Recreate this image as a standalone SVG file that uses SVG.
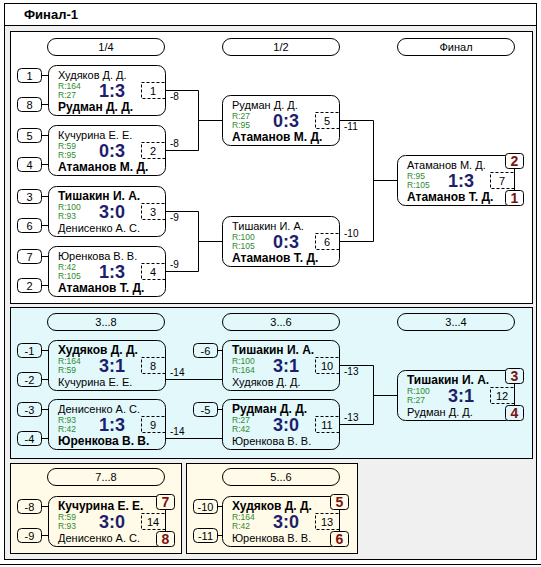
<svg xmlns="http://www.w3.org/2000/svg" width="541" height="567" viewBox="0 0 541 567">
<style>
text{font-family:"Liberation Sans",Arial,sans-serif;}
.frame{fill:#f0f0f0;stroke:#000;stroke-width:1}
.title{fill:#fff;stroke:#000;stroke-width:1}
.ttl{font-size:13px;font-weight:bold;fill:#000}
.p1{fill:#fff;stroke:#000;stroke-width:1}
.p2{fill:#e2f8fb;stroke:#000;stroke-width:1}
.p3{fill:#fffbe8;stroke:#000;stroke-width:1}
.pill{fill:none;stroke:#000;stroke-width:1}
.pt{font-size:11px;text-anchor:middle;fill:#000}
.box{fill:none;stroke:#000;stroke-width:1}
.seed{fill:none;stroke:#000;stroke-width:1}
.st{font-size:11px;text-anchor:middle;fill:#000}
.dash{fill:none;stroke:#000;stroke-width:1;stroke-dasharray:3,2}
.dt{font-size:11px;text-anchor:middle;fill:#000}
.n{font-size:11px;fill:#000}
.nb{font-size:12px;font-weight:bold;fill:#000}
.r{font-size:8.5px;fill:#2e8b2e}
.sc{font-size:18px;font-weight:bold;fill:#1e1e6e;text-anchor:middle}
.pl{stroke:#000;stroke-width:1}
.plt{font-size:14px;font-weight:bold;fill:#7a1212;text-anchor:middle}
.ln{fill:none;stroke:#000;stroke-width:1}
.lb{font-size:10px;fill:#000}
</style>

<!-- frame -->
<rect class="title" x="4.5" y="3.5" width="532" height="22"/>
<text class="ttl" x="24" y="19">Финал-1</text>
<rect class="frame" x="4.5" y="25.5" width="532" height="534"/>
<line x1="0" y1="564.5" x2="541" y2="564.5" stroke="#000" stroke-width="1"/>

<!-- panels -->
<rect class="p1" x="10.5" y="31.5" width="522" height="272"/>
<rect class="p2" x="10.5" y="307.5" width="522" height="151"/>
<rect class="p3" x="10.5" y="463.5" width="171" height="90"/>
<rect class="p3" x="186.5" y="463.5" width="171" height="90"/>

<!-- round headers -->
<g id="headers">
<rect class="pill" x="47.5" y="38.5" width="117" height="17" rx="8.5"/><text class="pt" x="106" y="51">1/4</text>
<rect class="pill" x="222.5" y="38.5" width="117" height="17" rx="8.5"/><text class="pt" x="281" y="51">1/2</text>
<rect class="pill" x="397.5" y="38.5" width="117" height="17" rx="8.5"/><text class="pt" x="456" y="51">Финал</text>
<rect class="pill" x="47.5" y="313.5" width="117" height="17" rx="8.5"/><text class="pt" x="106" y="326">3...8</text>
<rect class="pill" x="222.5" y="313.5" width="117" height="17" rx="8.5"/><text class="pt" x="281" y="326">3...6</text>
<rect class="pill" x="397.5" y="313.5" width="117" height="17" rx="8.5"/><text class="pt" x="456" y="326">3...4</text>
<rect class="pill" x="47.5" y="468.5" width="117" height="17" rx="8.5"/><text class="pt" x="106" y="481">7...8</text>
<rect class="pill" x="222.5" y="468.5" width="117" height="17" rx="8.5"/><text class="pt" x="281" y="481">5...6</text>
</g>

<!-- connectors -->
<g id="connectors">
<path class="ln" d="M165,90.5H198.5V150.5H165M198.5,120.5H222"/>
<path class="ln" d="M165,211.5H198.5V271.5H165M198.5,241.5H222"/>
<path class="ln" d="M339,120.5H373.5V241.5H339M373.5,180.5H397"/>
<path class="ln" d="M165,379.5H222M165,438.5H222"/>
<path class="ln" d="M339,365.5H373.5V424.5H339M373.5,395.5H397"/>
<path class="ln" d="M42,75.5H48M42,104.5H48M42,135.5H48M42,164.5H48M42,196.5H48M42,225.5H48M42,256.5H48M42,285.5H48"/>
<path class="ln" d="M42,350.5H48M42,379.5H48M42,409.5H48M42,438.5H48M218,350.5H222M218,409.5H222"/>
<path class="ln" d="M42,506.5H48M42,535.5H48M218,506.5H222M218,535.5H222"/>
<text class="lb" x="170" y="100">-8</text>
<text class="lb" x="170" y="147">-8</text>
<text class="lb" x="170" y="221">-9</text>
<text class="lb" x="170" y="268">-9</text>
<text class="lb" x="344" y="130">-11</text>
<text class="lb" x="344" y="237">-10</text>
<text class="lb" x="170" y="376">-14</text>
<text class="lb" x="170" y="435">-14</text>
<text class="lb" x="344" y="375">-13</text>
<text class="lb" x="344" y="421">-13</text>
</g>

<!-- seeds -->
<g id="seeds">
<rect class="seed" x="17.5" y="68.5" width="24" height="14" rx="4"/><text class="st" x="29.5" y="80">1</text>
<rect class="seed" x="17.5" y="97.5" width="24" height="14" rx="4"/><text class="st" x="29.5" y="109">8</text>
<rect class="seed" x="17.5" y="128.5" width="24" height="14" rx="4"/><text class="st" x="29.5" y="140">5</text>
<rect class="seed" x="17.5" y="157.5" width="24" height="14" rx="4"/><text class="st" x="29.5" y="169">4</text>
<rect class="seed" x="17.5" y="189.5" width="24" height="14" rx="4"/><text class="st" x="29.5" y="201">3</text>
<rect class="seed" x="17.5" y="218.5" width="24" height="14" rx="4"/><text class="st" x="29.5" y="230">6</text>
<rect class="seed" x="17.5" y="249.5" width="24" height="14" rx="4"/><text class="st" x="29.5" y="261">7</text>
<rect class="seed" x="17.5" y="278.5" width="24" height="14" rx="4"/><text class="st" x="29.5" y="290">2</text>
<rect class="seed" x="17.5" y="343.5" width="24" height="14" rx="4"/><text class="st" x="29.5" y="355">-1</text>
<rect class="seed" x="17.5" y="372.5" width="24" height="14" rx="4"/><text class="st" x="29.5" y="384">-2</text>
<rect class="seed" x="17.5" y="402.5" width="24" height="14" rx="4"/><text class="st" x="29.5" y="414">-3</text>
<rect class="seed" x="17.5" y="431.5" width="24" height="14" rx="4"/><text class="st" x="29.5" y="443">-4</text>
<rect class="seed" x="193.5" y="343.5" width="24" height="14" rx="4"/><text class="st" x="205.5" y="355">-6</text>
<rect class="seed" x="193.5" y="402.5" width="24" height="14" rx="4"/><text class="st" x="205.5" y="414">-5</text>
<rect class="seed" x="17.5" y="499.5" width="24" height="14" rx="4"/><text class="st" x="29.5" y="511">-8</text>
<rect class="seed" x="17.5" y="528.5" width="24" height="14" rx="4"/><text class="st" x="29.5" y="540">-9</text>
<rect class="seed" x="193.5" y="499.5" width="24" height="14" rx="4"/><text class="st" x="205.5" y="511">-10</text>
<rect class="seed" x="193.5" y="528.5" width="24" height="14" rx="4"/><text class="st" x="205.5" y="540">-11</text>
</g>

<!-- match 1 -->
<g id="m1" transform="translate(48,65)">
<rect class="box" x="0.5" y="0.5" width="117" height="50" rx="8"/>
<text class="n" x="10" y="14">Худяков Д. Д.</text><text class="r" x="10" y="24">R:164</text>
<text class="r" x="10" y="33">R:27</text><text class="nb" x="10" y="46">Рудман Д. Д.</text>
<text class="sc" x="64" y="32">1:3</text>
<rect class="dash" x="93.5" y="17.5" width="24" height="16"/><text class="dt" x="105" y="30">1</text>
</g>
<g id="m2" transform="translate(48,125)">
<rect class="box" x="0.5" y="0.5" width="117" height="50" rx="8"/>
<text class="n" x="10" y="14">Кучурина Е. Е.</text><text class="r" x="10" y="24">R:59</text>
<text class="r" x="10" y="33">R:95</text><text class="nb" x="10" y="46">Атаманов М. Д.</text>
<text class="sc" x="64" y="32">0:3</text>
<rect class="dash" x="93.5" y="17.5" width="24" height="16"/><text class="dt" x="105" y="30">2</text>
</g>
<g id="m3" transform="translate(48,186)">
<rect class="box" x="0.5" y="0.5" width="117" height="50" rx="8"/>
<text class="nb" x="10" y="14">Тишакин И. А.</text><text class="r" x="10" y="24">R:100</text>
<text class="r" x="10" y="33">R:93</text><text class="n" x="10" y="46">Денисенко А. С.</text>
<text class="sc" x="64" y="32">3:0</text>
<rect class="dash" x="93.5" y="17.5" width="24" height="16"/><text class="dt" x="105" y="30">3</text>
</g>
<g id="m4" transform="translate(48,246)">
<rect class="box" x="0.5" y="0.5" width="117" height="50" rx="8"/>
<text class="n" x="10" y="14">Юренкова В. В.</text><text class="r" x="10" y="24">R:42</text>
<text class="r" x="10" y="33">R:105</text><text class="nb" x="10" y="46">Атаманов Т. Д.</text>
<text class="sc" x="64" y="32">1:3</text>
<rect class="dash" x="93.5" y="17.5" width="24" height="16"/><text class="dt" x="105" y="30">4</text>
</g>
<g id="m5" transform="translate(222,95)">
<rect class="box" x="0.5" y="0.5" width="117" height="50" rx="8"/>
<text class="n" x="10" y="14">Рудман Д. Д.</text><text class="r" x="10" y="24">R:27</text>
<text class="r" x="10" y="33">R:95</text><text class="nb" x="10" y="46">Атаманов М. Д.</text>
<text class="sc" x="64" y="32">0:3</text>
<rect class="dash" x="93.5" y="17.5" width="24" height="16"/><text class="dt" x="105" y="30">5</text>
</g>
<g id="m6" transform="translate(222,216)">
<rect class="box" x="0.5" y="0.5" width="117" height="50" rx="8"/>
<text class="n" x="10" y="14">Тишакин И. А.</text><text class="r" x="10" y="24">R:100</text>
<text class="r" x="10" y="33">R:105</text><text class="nb" x="10" y="46">Атаманов Т. Д.</text>
<text class="sc" x="64" y="32">0:3</text>
<rect class="dash" x="93.5" y="17.5" width="24" height="16"/><text class="dt" x="105" y="30">6</text>
</g>
<g id="m7" transform="translate(397,155)">
<rect class="box" x="0.5" y="0.5" width="117" height="50" rx="8"/>
<text class="n" x="10" y="14">Атаманов М. Д.</text><text class="r" x="10" y="24">R:95</text>
<text class="r" x="10" y="33">R:105</text><text class="nb" x="10" y="46">Атаманов Т. Д.</text>
<text class="sc" x="64" y="32">1:3</text>
<rect class="dash" x="93.5" y="17.5" width="24" height="16"/><text class="dt" x="105" y="30">7</text>
<rect class="pl" fill="#fff" x="108.5" y="-1.5" width="18" height="15" rx="3"/><text class="plt" x="117.5" y="11">2</text>
<rect class="pl" fill="#fff" x="108.5" y="35.5" width="18" height="15" rx="3"/><text class="plt" x="117.5" y="48">1</text>
</g>

<g id="m8" transform="translate(48,340)">
<rect class="box" x="0.5" y="0.5" width="117" height="50" rx="8"/>
<text class="nb" x="10" y="14">Худяков Д. Д.</text><text class="r" x="10" y="24">R:164</text>
<text class="r" x="10" y="33">R:59</text><text class="n" x="10" y="46">Кучурина Е. Е.</text>
<text class="sc" x="64" y="32">3:1</text>
<rect class="dash" x="93.5" y="17.5" width="24" height="16"/><text class="dt" x="105" y="30">8</text>
</g>
<g id="m9" transform="translate(48,399)">
<rect class="box" x="0.5" y="0.5" width="117" height="50" rx="8"/>
<text class="n" x="10" y="14">Денисенко А. С.</text><text class="r" x="10" y="24">R:93</text>
<text class="r" x="10" y="33">R:42</text><text class="nb" x="10" y="46">Юренкова В. В.</text>
<text class="sc" x="64" y="32">1:3</text>
<rect class="dash" x="93.5" y="17.5" width="24" height="16"/><text class="dt" x="105" y="30">9</text>
</g>
<g id="m10" transform="translate(222,340)">
<rect class="box" x="0.5" y="0.5" width="117" height="50" rx="8"/>
<text class="nb" x="10" y="14">Тишакин И. А.</text><text class="r" x="10" y="24">R:100</text>
<text class="r" x="10" y="33">R:164</text><text class="n" x="10" y="46">Худяков Д. Д.</text>
<text class="sc" x="64" y="32">3:1</text>
<rect class="dash" x="93.5" y="17.5" width="24" height="16"/><text class="dt" x="105" y="30">10</text>
</g>
<g id="m11" transform="translate(222,399)">
<rect class="box" x="0.5" y="0.5" width="117" height="50" rx="8"/>
<text class="nb" x="10" y="14">Рудман Д. Д.</text><text class="r" x="10" y="24">R:27</text>
<text class="r" x="10" y="33">R:42</text><text class="n" x="10" y="46">Юренкова В. В.</text>
<text class="sc" x="64" y="32">3:0</text>
<rect class="dash" x="93.5" y="17.5" width="24" height="16"/><text class="dt" x="105" y="30">11</text>
</g>
<g id="m12" transform="translate(397,370)">
<rect class="box" x="0.5" y="0.5" width="117" height="50" rx="8"/>
<text class="nb" x="10" y="14">Тишакин И. А.</text><text class="r" x="10" y="24">R:100</text>
<text class="r" x="10" y="33">R:27</text><text class="n" x="10" y="46">Рудман Д. Д.</text>
<text class="sc" x="64" y="32">3:1</text>
<rect class="dash" x="93.5" y="17.5" width="24" height="16"/><text class="dt" x="105" y="30">12</text>
<rect class="pl" fill="#e2f8fb" x="108.5" y="-1.5" width="18" height="15" rx="3"/><text class="plt" x="117.5" y="11">3</text>
<rect class="pl" fill="#e2f8fb" x="108.5" y="35.5" width="18" height="15" rx="3"/><text class="plt" x="117.5" y="48">4</text>
</g>

<g id="m14" transform="translate(48,496)">
<rect class="box" x="0.5" y="0.5" width="117" height="50" rx="8"/>
<text class="nb" x="10" y="14">Кучурина Е. Е.</text><text class="r" x="10" y="24">R:59</text>
<text class="r" x="10" y="33">R:93</text><text class="n" x="10" y="46">Денисенко А. С.</text>
<text class="sc" x="64" y="32">3:0</text>
<rect class="dash" x="93.5" y="17.5" width="24" height="16"/><text class="dt" x="105" y="30">14</text>
<rect class="pl" fill="#fffbe8" x="108.5" y="-1.5" width="18" height="15" rx="3"/><text class="plt" x="117.5" y="11">7</text>
<rect class="pl" fill="#fffbe8" x="108.5" y="35.5" width="18" height="15" rx="3"/><text class="plt" x="117.5" y="48">8</text>
</g>
<g id="m13" transform="translate(222,496)">
<rect class="box" x="0.5" y="0.5" width="117" height="50" rx="8"/>
<text class="nb" x="10" y="14">Худяков Д. Д.</text><text class="r" x="10" y="24">R:164</text>
<text class="r" x="10" y="33">R:42</text><text class="n" x="10" y="46">Юренкова В. В.</text>
<text class="sc" x="64" y="32">3:0</text>
<rect class="dash" x="93.5" y="17.5" width="24" height="16"/><text class="dt" x="105" y="30">13</text>
<rect class="pl" fill="#fffbe8" x="108.5" y="-1.5" width="18" height="15" rx="3"/><text class="plt" x="117.5" y="11">5</text>
<rect class="pl" fill="#fffbe8" x="108.5" y="35.5" width="18" height="15" rx="3"/><text class="plt" x="117.5" y="48">6</text>
</g>
</svg>
